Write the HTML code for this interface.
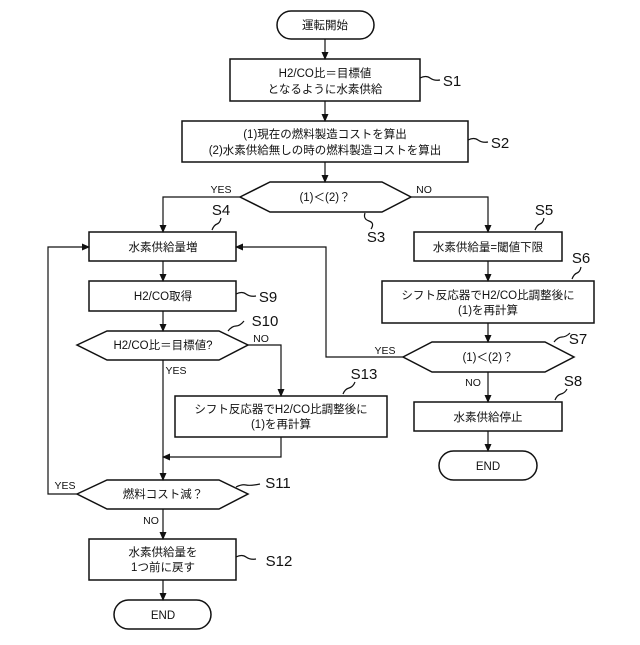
<!DOCTYPE html>
<html><head><meta charset="utf-8"><style>
html,body{margin:0;padding:0;background:#fff}
svg text{font-family:"Liberation Sans","Noto Sans CJK JP",sans-serif;fill:#111}
</style></head><body>
<svg width="640" height="640" viewBox="0 0 640 640" xmlns="http://www.w3.org/2000/svg">
<defs><marker id="a" markerWidth="8" markerHeight="8" refX="7" refY="4" orient="auto" markerUnits="userSpaceOnUse"><path d="M0,0.5 L8,4 L0,7.5 Z" fill="#111"/></marker></defs>
<g fill="none" stroke="#111" stroke-width="1.5">
<rect x="277" y="11" width="97" height="28" rx="14"/>
<rect x="230" y="59" width="190" height="42"/>
<rect x="182" y="121" width="286" height="41"/>
<polygon points="240,197 270,182 382,182 411,197 382,212 270,212"/>
<rect x="89" y="232" width="147" height="29"/>
<rect x="414" y="232" width="148" height="29"/>
<rect x="89" y="281" width="147" height="30"/>
<rect x="382" y="281" width="212" height="42"/>
<polygon points="77,345 107,331 219,331 248,345 219,360 107,360"/>
<polygon points="403,357 432,342 545,342 574,357 545,372 432,372"/>
<rect x="175" y="396" width="212" height="41"/>
<rect x="414" y="402" width="148" height="29"/>
<rect x="439" y="451" width="98" height="29" rx="14.5"/>
<polygon points="77,494 107,480 219,480 248,494 219,509 107,509"/>
<rect x="89" y="539" width="147" height="41"/>
<rect x="114" y="600" width="97" height="29" rx="14.5"/>
</g>
<g fill="none" stroke="#111" stroke-width="1.2">
<path d="M325,39 V59" marker-end="url(#a)"/>
<path d="M325,101 V121" marker-end="url(#a)"/>
<path d="M325,162 V182" marker-end="url(#a)"/>
<path d="M240,197 H163 V232" marker-end="url(#a)"/>
<path d="M411,197 H488 V232" marker-end="url(#a)"/>
<path d="M163,261 V281" marker-end="url(#a)"/>
<path d="M488,261 V281" marker-end="url(#a)"/>
<path d="M163,311 V331" marker-end="url(#a)"/>
<path d="M488,323 V342" marker-end="url(#a)"/>
<path d="M403,357 H326 V247 H236" marker-end="url(#a)"/>
<path d="M248,345 H281 V396" marker-end="url(#a)"/>
<path d="M163,360 V480" marker-end="url(#a)"/>
<path d="M281,437 V457 H163" marker-end="url(#a)"/>
<path d="M488,372 V402" marker-end="url(#a)"/>
<path d="M488,431 V451" marker-end="url(#a)"/>
<path d="M77,494 H48 V247 H89" marker-end="url(#a)"/>
<path d="M163,509 V539" marker-end="url(#a)"/>
<path d="M163,580 V600" marker-end="url(#a)"/>
<!-- leaders -->
<path d="M420,78 q6,-3 10,0 t10,2"/>
<path d="M468,140 q6,-3 10,0 t10,2"/>
<path d="M365,213 q-2,6 4,8 t2,8"/>
<path d="M212,230 q2,-5 5,-6 t4,-6"/>
<path d="M535,230 q2,-5 5,-6 t4,-6"/>
<path d="M572,279 q2,-5 5,-6 t4,-6"/>
<path d="M236,294 q6,-3 10,0 t10,2"/>
<path d="M228,331 q4,-5 8,-5 t8,-5"/>
<path d="M554,342 q4,-5 8,-5 t8,-4"/>
<path d="M343,394 q2,-5 6,-6 t6,-6"/>
<path d="M555,400 q2,-5 6,-6 t6,-5"/>
<path d="M236,487 q6,-3 10,-2 t14,-1"/>
<path d="M236,557 q6,-3 10,0 t10,2"/>
</g>
<g font-size="11.5" text-anchor="middle">
<text x="325" y="29">運転開始</text>
<text x="325" y="77">H2/CO比＝目標値</text>
<text x="325" y="93">となるように水素供給</text>
<text x="325" y="138">(1)現在の燃料製造コストを算出</text>
<text x="325" y="154">(2)水素供給無しの時の燃料製造コストを算出</text>
<text x="325" y="201">(1)＜(2)？</text>
<text x="163" y="251">水素供給量増</text>
<text x="488" y="251">水素供給量=閾値下限</text>
<text x="163" y="300">H2/CO取得</text>
<text x="488" y="299">シフト反応器でH2/CO比調整後に</text>
<text x="488" y="314">(1)を再計算</text>
<text x="163" y="349">H2/CO比＝目標値?</text>
<text x="488" y="361">(1)＜(2)？</text>
<text x="281" y="413">シフト反応器でH2/CO比調整後に</text>
<text x="281" y="428">(1)を再計算</text>
<text x="488" y="421">水素供給停止</text>
<text x="488" y="470">END</text>
<text x="163" y="498">燃料コスト減？</text>
<text x="163" y="556">水素供給量を</text>
<text x="163" y="571">1つ前に戻す</text>
<text x="163" y="619">END</text>
</g>
<g font-size="10.5" text-anchor="middle">
<text x="221" y="193">YES</text>
<text x="424" y="193">NO</text>
<text x="385" y="354">YES</text>
<text x="473" y="386">NO</text>
<text x="261" y="342">NO</text>
<text x="176" y="374">YES</text>
<text x="65" y="489">YES</text>
<text x="151" y="524">NO</text>
</g>
<g font-size="15" text-anchor="middle">
<text x="452" y="86">S1</text>
<text x="500" y="148">S2</text>
<text x="376" y="242">S3</text>
<text x="221" y="215">S4</text>
<text x="544" y="215">S5</text>
<text x="581" y="263">S6</text>
<text x="578" y="344">S7</text>
<text x="573" y="386">S8</text>
<text x="268" y="302">S9</text>
<text x="265" y="326">S10</text>
<text x="278" y="488">S11</text>
<text x="279" y="566">S12</text>
<text x="364" y="379">S13</text>
</g>
</svg>
</body></html>
